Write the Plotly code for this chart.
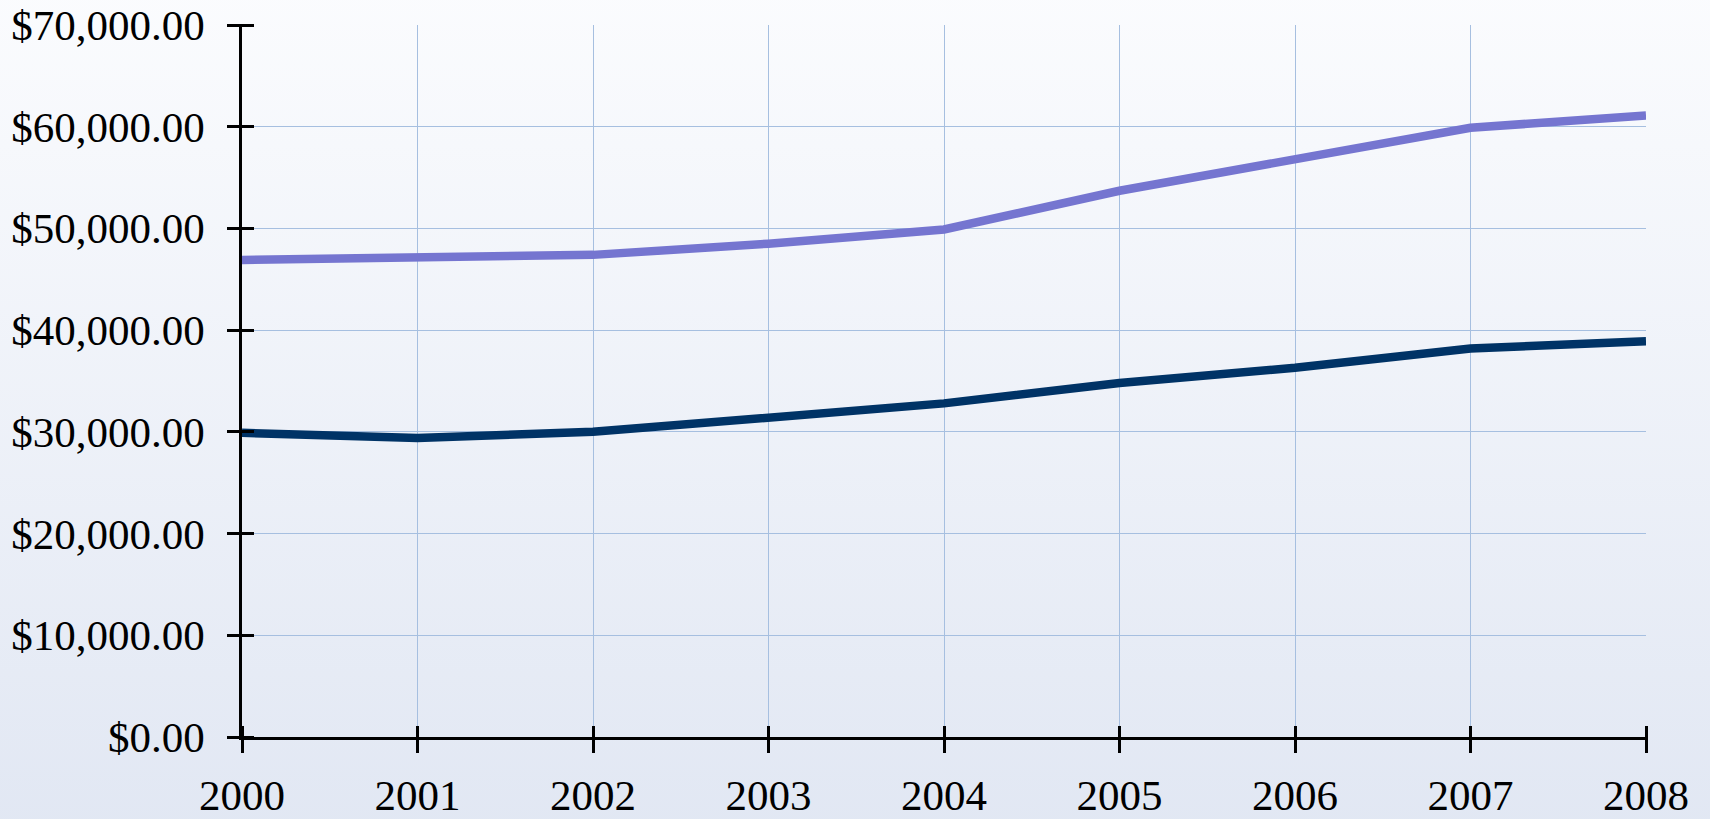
import base64
import plotly.graph_objects as go

# Data
years = [2000, 2001, 2002, 2003, 2004, 2005, 2006, 2007, 2008]
upper_values = [46900, 47100, 47400, 48500, 49900, 53700, 56700, 59900, 61100]
lower_values = [29900, 29400, 30000, 31300, 32800, 34800, 36300, 38200, 38900]
y_ticks = [0, 10000, 20000, 30000, 40000, 50000, 60000, 70000]
y_tick_labels = ["$%s" % format(v, ",.2f") for v in y_ticks]

FONT = "Liberation Serif, Times New Roman, serif"
GRID = "#A6BFE0"

# plot area in pixels (used to place the tick overlay axes)
PLOT_W = 1710 - 242 - 64
PLOT_H = 819 - 25 - 82
TICK_HALF = 12

# vertical gradient background, as an svg data uri
svg = (
    '<svg xmlns="http://www.w3.org/2000/svg" width="100" height="100" preserveAspectRatio="none">'
    '<defs><linearGradient id="g" x1="0" y1="0" x2="0" y2="1">'
    '<stop offset="0" stop-color="#FBFCFE"/><stop offset="1" stop-color="#E1E7F3"/>'
    '</linearGradient></defs><rect width="100" height="100" fill="url(#g)"/></svg>'
)
bg_src = "data:image/svg+xml;base64," + base64.b64encode(svg.encode()).decode()

fig = go.Figure()

fig.add_trace(go.Scatter(
    x=years, y=upper_values, mode="lines",
    line=dict(color="#7575D0", width=8.5),
    hoverinfo="skip", showlegend=False
))
fig.add_trace(go.Scatter(
    x=years, y=lower_values, mode="lines",
    line=dict(color="#003366", width=8.5),
    hoverinfo="skip", showlegend=False
))
# invisible trace so the overlay axes (ticks crossing the axis lines) get drawn
fig.add_trace(go.Scatter(
    x=years, y=lower_values, mode="lines", xaxis="x2", yaxis="y2",
    line=dict(width=0), opacity=0, hoverinfo="skip", showlegend=False
))

fig.update_layout(
    width=1710, height=819,
    margin=dict(l=242, r=64, t=25, b=82, autoexpand=False),
    paper_bgcolor="rgba(0,0,0,0)",
    plot_bgcolor="rgba(0,0,0,0)",
    font=dict(family=FONT, size=43, color="black"),
    images=[dict(
        source=bg_src, xref="paper", yref="paper", x=-0.25, y=1.06,
        sizex=1.5, sizey=1.2, sizing="stretch", layer="below",
        xanchor="left", yanchor="top"
    )],
    xaxis=dict(
        range=[2000, 2008], tickvals=years, ticktext=[str(y) for y in years],
        showgrid=True, gridcolor=GRID, gridwidth=1, automargin=False,
        showline=True, linecolor="black", linewidth=2.5,
        ticks="outside", ticklen=13, tickwidth=2.5, tickcolor="black",
        ticklabelstandoff=6, zeroline=False, fixedrange=True
    ),
    yaxis=dict(
        range=[0, 70000], tickvals=y_ticks, ticktext=y_tick_labels,
        showgrid=True, gridcolor=GRID, gridwidth=1, automargin=False,
        showline=True, linecolor="black", linewidth=2.5,
        ticks="outside", ticklen=12, tickwidth=2.5, tickcolor="black",
        ticklabelstandoff=14, zeroline=False, fixedrange=True
    ),
    xaxis2=dict(
        overlaying="x", anchor="free", position=TICK_HALF / PLOT_H,
        range=[2000, 2008], tickvals=years, showticklabels=False,
        showgrid=False, showline=False, zeroline=False, automargin=False,
        ticks="outside", ticklen=TICK_HALF * 2 + 1, tickwidth=2.5, tickcolor="black",
        fixedrange=True
    ),
    yaxis2=dict(
        overlaying="y", anchor="free", position=TICK_HALF / PLOT_W,
        range=[0, 70000], tickvals=y_ticks, showticklabels=False,
        showgrid=False, showline=False, zeroline=False, automargin=False,
        ticks="outside", ticklen=TICK_HALF * 2, tickwidth=2.5, tickcolor="black",
        fixedrange=True
    ),
)

# drop the default page margin so the figure sits at the window's corner
fig.write_html(
    "out.html",
    config={"displayModeBar": False},
    post_script="document.body.style.margin='0';document.body.style.overflow='hidden';"
)
